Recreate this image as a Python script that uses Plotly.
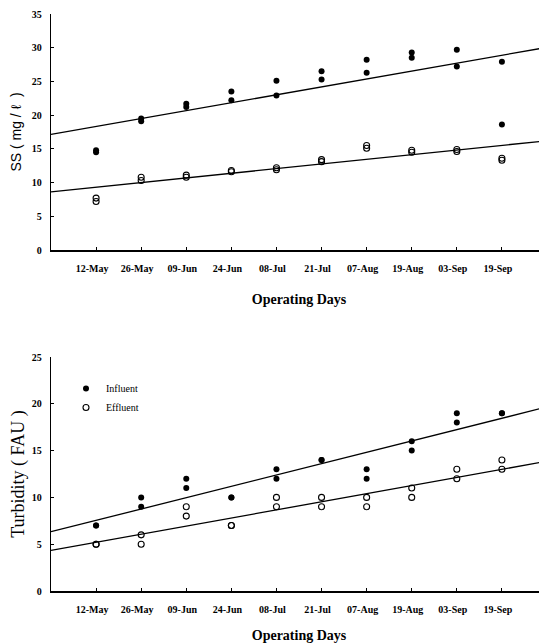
import numpy as np
import plotly.graph_objects as go

# ---------------- data ----------------
dates = ["12-May", "26-May", "09-Jun", "24-Jun", "08-Jul",
         "21-Jul", "07-Aug", "19-Aug", "03-Sep", "19-Sep"]

# Suspended solids (mg/l), two measurements per date
ss_influent_a = [14.5, 19.1, 21.7, 23.5, 25.1, 26.5, 28.2, 29.3, 29.7, 27.9]
ss_influent_b = [14.8, 19.5, 21.2, 22.2, 22.9, 25.3, 26.3, 28.5, 27.2, 18.6]
ss_effluent_a = [7.2, 10.3, 10.8, 11.6, 11.9, 13.1, 15.1, 14.5, 14.6, 13.3]
ss_effluent_b = [7.7, 10.8, 11.1, 11.8, 12.2, 13.4, 15.5, 14.8, 14.9, 13.6]

# Turbidity (FAU), two measurements per date
turb_influent_a = [7, 10, 12, 10, 13, 14, 13, 16, 19, 19]
turb_influent_b = [7, 9, 11, 10, 12, 14, 12, 15, 18, 19]
turb_effluent_a = [5, 6, 9, 7, 10, 10, 10, 11, 13, 14]
turb_effluent_b = [5, 5, 8, 7, 9, 9, 9, 10, 12, 13]

ss_ticks = [0, 5, 10, 15, 20, 25, 30, 35]
turb_ticks = [0, 5, 10, 15, 20, 25]

# ---------------- helpers ----------------
# page has an 8px body margin, so the figure is 8px smaller than the window
W, H = 539, 636
SERIF = "Liberation Serif"
SANS = "Liberation Sans"

pos = np.arange(1, len(dates) + 1)
x_range = [0, len(dates) + 1]
x_fit = np.array(x_range, dtype=float)


def fit_line(a, b):
    xs = np.concatenate([pos, pos])
    ys = np.concatenate([a, b])
    k, c = np.polyfit(xs, ys, 1)
    return k * x_fit + c


filled = dict(symbol="circle", size=6, color="black", line=dict(width=0))
hollow = dict(symbol="circle-open", size=6, color="black", line=dict(width=1.1, color="black"))

fig = go.Figure()

# ---- top: SS ----
for arr, mk in [(ss_influent_a, filled), (ss_influent_b, filled),
                (ss_effluent_a, hollow), (ss_effluent_b, hollow)]:
    fig.add_trace(go.Scatter(x=pos, y=arr, mode="markers", marker=mk,
                             showlegend=False, xaxis="x", yaxis="y", hoverinfo="skip"))
for a, b in [(ss_influent_a, ss_influent_b), (ss_effluent_a, ss_effluent_b)]:
    fig.add_trace(go.Scatter(x=x_fit, y=fit_line(a, b), mode="lines",
                             line=dict(color="black", width=1.3),
                             showlegend=False, xaxis="x", yaxis="y", hoverinfo="skip"))

# ---- bottom: Turbidity ----
fig.add_trace(go.Scatter(x=pos, y=turb_influent_a, mode="markers", marker=filled,
                         name="Influent", legendgroup="inf", xaxis="x2", yaxis="y2"))
fig.add_trace(go.Scatter(x=pos, y=turb_influent_b, mode="markers", marker=filled,
                         name="Influent", legendgroup="inf", showlegend=False,
                         xaxis="x2", yaxis="y2"))
fig.add_trace(go.Scatter(x=pos, y=turb_effluent_a, mode="markers", marker=hollow,
                         name="Effluent", legendgroup="eff", xaxis="x2", yaxis="y2"))
fig.add_trace(go.Scatter(x=pos, y=turb_effluent_b, mode="markers", marker=hollow,
                         name="Effluent", legendgroup="eff", showlegend=False,
                         xaxis="x2", yaxis="y2"))
for a, b in [(turb_influent_a, turb_influent_b), (turb_effluent_a, turb_effluent_b)]:
    fig.add_trace(go.Scatter(x=x_fit, y=fit_line(a, b), mode="lines",
                             line=dict(color="black", width=1.3),
                             showlegend=False, xaxis="x2", yaxis="y2", hoverinfo="skip"))

tickfont = dict(family=SERIF, size=10, color="black", weight="bold")
xtitle_font = dict(family=SERIF, size=14, color="black", weight="bold")

xcommon = dict(range=x_range, tickmode="array", tickvals=pos, ticktext=dates,
               showline=True, linecolor="black", linewidth=1.5,
               ticks="inside", ticklen=3, tickwidth=1, tickcolor="black",
               showgrid=False, zeroline=False, tickfont=tickfont,
               ticklabelstandoff=8, ticklabelshift=-4, automargin=False)
ycommon = dict(showline=True, linecolor="black", linewidth=1.3,
               ticks="inside", ticklen=3, tickwidth=1, tickcolor="black",
               showgrid=False, zeroline=False, tickfont=tickfont,
               ticklabelstandoff=6, automargin=False)

fig.update_layout(
    width=W, height=H,
    margin=dict(l=43, r=0, t=0, b=0),
    paper_bgcolor="white", plot_bgcolor="white",
    xaxis=dict(domain=[0, 1], anchor="y",
               title=dict(text="Operating Days", standoff=21, font=xtitle_font),
               **xcommon),
    xaxis2=dict(domain=[0, 1], anchor="y2",
                title=dict(text="Operating Days", standoff=16, font=xtitle_font),
                **xcommon),
    yaxis=dict(domain=[1 - 242 / H, 1 - 6 / H], anchor="x", range=[0, 35],
               tickvals=ss_ticks,
               title=dict(text="SS ( mg / ℓ  )", standoff=9,
                          font=dict(family=SANS, size=14, color="black")),
               **ycommon),
    yaxis2=dict(domain=[1 - 583 / H, 1 - 349 / H], anchor="x2", range=[0, 25],
                tickvals=turb_ticks,
                title=dict(text="Turbidity ( FAU )", standoff=5,
                           font=dict(family=SERIF, size=18, color="black")),
                **ycommon),
    legend=dict(x=(58 - 43) / 496, y=1 - 366 / H, xanchor="left", yanchor="top",
                bgcolor="rgba(0,0,0,0)", borderwidth=0, itemwidth=30,
                font=dict(family=SERIF, size=10, color="black"),
                tracegroupgap=0),
    showlegend=True,
)

fig.write_html("out.html")
